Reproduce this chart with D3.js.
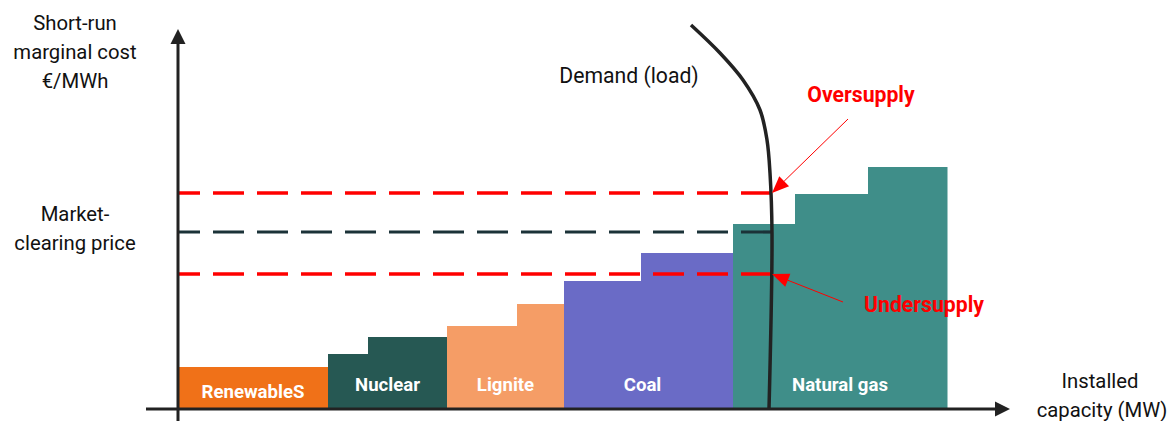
<!DOCTYPE html>
<html>
<head>
<meta charset="utf-8">
<script src="https://cdn.jsdelivr.net/npm/d3@7"></script>
<style>
  html, body { margin: 0; padding: 0; background: #fff; }
  svg { display: block; font-family: Roboto, "Noto Sans", sans-serif; }
</style>
</head>
<body>
<svg id="chart" width="1170" height="421"></svg>
<script>
// Merit order: generation blocks sorted by short-run marginal cost
const technologies = ["RenewableS", "Nuclear", "Lignite", "Coal", "Natural gas"];
const techColors   = ["#F07118", "#265853", "#F59D66", "#6A6BC6", "#3F8E89"];
// capacity of each block (MW, schematic units) and its marginal cost (€/MWh)
const blockTech     = [0, 1, 1, 2, 2, 3, 3, 4, 4, 4];
const blockCapacity = [15, 4, 7.9, 7, 4.7, 7.7, 9.2, 6.2, 7.3, 7.9];
const blockCost     = [21, 27.5, 36, 41.5, 52.5, 64, 78, 92.5, 107.5, 121];

// Price levels
const clearingPrice   = 88.5;
const oversupplyPrice = 108;
const undersupplyPrice = 67.5;

// Demand (load) curve: capacity vs. price
const demandCapacity = [51.3, 54.2, 56.5, 58.2, 58.9, 59.2, 59.4, 59.1];
const demandPrice    = [192, 178, 164.5, 149.5, 134.5, 118, 88, 0];

const svg = d3.select("#chart");
const x = d3.scaleLinear().domain([0, 83.2]).range([178, 1010]);
const y = d3.scaleLinear().domain([0, 190]).range([409, 29]);
const axisColor = "#222";

// cumulative block positions
let acc = 0;
const blocks = blockCapacity.map((c, i) => {
  const b = { x0: acc, x1: acc + c, cost: blockCost[i], tech: blockTech[i] };
  acc += c;
  return b;
});

svg.append("g").selectAll("rect").data(blocks).join("rect")
  .attr("x", d => x(d.x0))
  .attr("width", d => x(d.x1) - x(d.x0) + 0.5)
  .attr("y", d => y(d.cost))
  .attr("height", d => y(0) - y(d.cost))
  .attr("fill", d => techColors[d.tech]);

// technology labels, centred under each group of blocks
const groups = technologies.map((t, ti) => {
  const bs = blocks.filter(b => b.tech === ti);
  return { name: t, x0: bs[0].x0, x1: bs[bs.length - 1].x1, i: ti };
});
svg.append("g").selectAll("text").data(groups).join("text")
  .attr("x", d => (x(d.x0) + x(d.x1)) / 2 + (d.i === 3 ? -6 : 0))
  .attr("y", d => d.i === 0 ? 398 : 391)
  .attr("text-anchor", "middle")
  .attr("fill", "#fff")
  .attr("font-weight", "bold")
  .attr("font-size", 18.6)
  .text(d => d.name);

// dashed price lines up to the demand curve
const demandAtPrice = demandCapacity[6];
const priceLines = [
  { p: oversupplyPrice, c: "#FF0000", w: 3.5 },
  { p: clearingPrice, c: "#1B3238", w: 3.2 },
  { p: undersupplyPrice, c: "#FF0000", w: 3.5 }
];
svg.append("g").selectAll("line").data(priceLines).join("line")
  .attr("x1", x(0)).attr("x2", x(demandAtPrice))
  .attr("y1", d => y(d.p)).attr("y2", d => y(d.p))
  .attr("stroke", d => d.c)
  .attr("stroke-width", d => d.w)
  .attr("stroke-dasharray", "31 13")
  .attr("stroke-dashoffset", 9);

// demand curve
const demandPts = demandCapacity.map((c, i) => [x(c), y(demandPrice[i])]);
svg.append("path")
  .attr("d", d3.line().curve(d3.curveCatmullRom.alpha(0.5))(demandPts))
  .attr("fill", "none")
  .attr("stroke", axisColor)
  .attr("stroke-width", 3.5);

// axes with arrowheads
svg.append("line").attr("x1", x(0)).attr("x2", x(0)).attr("y1", 421).attr("y2", 40)
  .attr("stroke", axisColor).attr("stroke-width", 3);
svg.append("path")
  .attr("d", `M${x(0)},${y(190)} L${x(0) - 7.5},${y(190) + 15} L${x(0) + 7.5},${y(190) + 15} Z`)
  .attr("fill", axisColor);
svg.append("line").attr("x1", 146).attr("x2", 998).attr("y1", y(0)).attr("y2", y(0))
  .attr("stroke", axisColor).attr("stroke-width", 3);
svg.append("path")
  .attr("d", `M${x(83.2)},${y(0)} L${x(83.2) - 15},${y(0) - 7.5} L${x(83.2) - 15},${y(0) + 7.5} Z`)
  .attr("fill", axisColor);

// annotation arrows
function arrow(fromX, fromY, toX, toY) {
  const g = svg.append("g");
  const ang = Math.atan2(toY - fromY, toX - fromX);
  const len = 17, half = 7;
  const bx = toX - len * Math.cos(ang), by = toY - len * Math.sin(ang);
  g.append("line").attr("x1", fromX).attr("y1", fromY).attr("x2", bx).attr("y2", by)
    .attr("stroke", "#FF0000").attr("stroke-width", 1);
  g.append("path").attr("d",
    `M${toX},${toY} L${bx + half * Math.sin(ang)},${by - half * Math.cos(ang)} L${bx - half * Math.sin(ang)},${by + half * Math.cos(ang)} Z`)
    .attr("fill", "#FF0000");
}
arrow(848, 119, x(demandAtPrice), y(oversupplyPrice));
arrow(843, 302, x(demandAtPrice), y(undersupplyPrice));

// text annotations
const txt = (t, tx, ty, opts = {}) => svg.append("text")
  .attr("x", tx).attr("y", ty)
  .attr("text-anchor", opts.anchor || "middle")
  .attr("font-size", opts.size || 20.3)
  .attr("font-weight", opts.bold ? "bold" : "normal")
  .attr("fill", opts.color || "#111")
  .text(t);

txt("Short-run", 75, 30);
txt("marginal cost", 75, 59);
txt("€/MWh", 75, 88);
txt("Market-", 75, 221);
txt("clearing price", 75, 250);
txt("Demand (load)", 629, 83, { size: 21.2 });
txt("Oversupply", 861, 102, { bold: true, color: "#FF0000", size: 21.2 });
txt("Undersupply", 924, 312, { bold: true, color: "#FF0000", size: 21.2 });
txt("Installed", 1100, 388);
txt("capacity (MW)", 1102, 417);
</script>
</body>
</html>
